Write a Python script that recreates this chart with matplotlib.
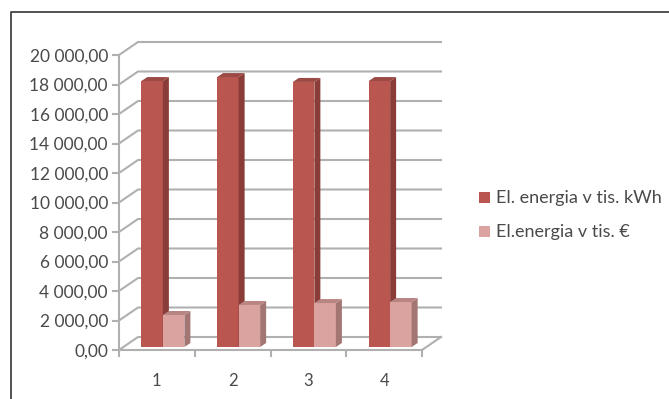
import matplotlib
matplotlib.use('Agg')
import matplotlib.pyplot as plt
from matplotlib.patches import Polygon, Rectangle

categories = [1, 2, 3, 4]
kwh = [18030, 18300, 17970, 18030]
eur = [2170, 2850, 2980, 3050]
y_ticks = [0, 2000, 4000, 6000, 8000, 10000, 12000, 14000, 16000, 18000, 20000]
y_labels = ['0,00', '2 000,00', '4 000,00', '6 000,00', '8 000,00', '10 000,00',
            '12 000,00', '14 000,00', '16 000,00', '18 000,00', '20 000,00']
legend_names = ['El. energia v tis. kWh', 'El.energia v tis. €']

plt.rcParams['font.family'] = ['Lato', 'DejaVu Sans']

W, H = 669, 399
GRID = '#b0b0b0'
TEXT = '#4a4a4a'

fig = plt.figure(figsize=(W / 100, H / 100), dpi=100)
ax = fig.add_axes([119 / W, (H - 350) / H, 303 / W, 295 / H])
ax.set_xlim(0.5, 4.5)
ax.set_ylim(0, 20000)
ax.patch.set_visible(False)

# pixels to data units for the fake 3d depth
px_x = 4 / 303
px_y = 20000 / 295


def depth(x, y, dx, dy):
    return x + dx * px_x, y + dy * px_y


# outer frame, open on the right and bottom
fig.add_artist(plt.Line2D([11 / W, 11 / W, 1], [0, (H - 12) / H, (H - 12) / H],
                          color='#333333', lw=1.2))

# back wall and floor
for v in y_ticks:
    x1, y1 = depth(0.5, v, 19, 13)
    x2, y2 = depth(4.5, v, 19, 13)
    ax.plot([0.5, x1, x2], [v, y1, y2], color=GRID, lw=1.5, clip_on=False, zorder=1)
x1, y1 = depth(4.5, 0, 19, 13)
ax.plot([4.5, x1], [0, y1], color=GRID, lw=1.5, clip_on=False, zorder=1)

# bars
bar_w = 0.284
shift = 6 * px_x
colors = [('#b9564f', '#8a3d38', '#9c4a45'), ('#dba3a0', '#a37573', '#b98583')]
for i, series in enumerate([kwh, eur]):
    front, side, top = colors[i]
    for cat, val in zip(categories, series):
        left = cat + shift - bar_w + i * bar_w
        right = left + bar_w
        base = 3 * px_y
        ax.bar(left, val, width=bar_w, bottom=base, align='edge', color=front,
               zorder=3 + i, clip_on=False)
        t = val + base
        ax.add_patch(Polygon([(right, base), depth(right, base, 6, 4), depth(right, t, 6, 4), (right, t)],
                             closed=True, color=side, lw=0, zorder=3 + i, clip_on=False))
        ax.add_patch(Polygon([(left, t), depth(left, t, 6, 4), depth(right, t, 6, 4), (right, t)],
                             closed=True, color=top, lw=0, zorder=3 + i, clip_on=False))

# axes
for s in ['top', 'right']:
    ax.spines[s].set_visible(False)
for s in ['left', 'bottom']:
    ax.spines[s].set_color(GRID)
    ax.spines[s].set_linewidth(1.5)
    ax.spines[s].set_zorder(6)
ax.set_yticks(y_ticks)
ax.set_yticklabels(y_labels, fontsize=12.5, color=TEXT)
ax.set_xticks([0.5, 1.5, 2.5, 3.5, 4.5])
ax.set_xticklabels([])
ax.tick_params(axis='y', length=5, width=1.5, color=GRID, pad=3)
ax.tick_params(axis='x', length=5, width=1.5, color=GRID)
for cat in categories:
    ax.annotate(str(cat), (cat, 0), xytext=(0, -36), textcoords='offset pixels',
                ha='center', va='baseline', fontsize=12, color=TEXT)

# legend
for name, c, py in zip(legend_names, [colors[0][0], colors[1][0]], [198, 232]):
    fig.add_artist(Rectangle((479 / W, (H - py - 5) / H), 11 / W, 11 / H, color=c, lw=0,
                             transform=fig.transFigure))
    fig.text(496 / W, (H - py) / H, name, fontsize=13, color=TEXT, va='center', ha='left')

fig.savefig('out.png', dpi=100)
